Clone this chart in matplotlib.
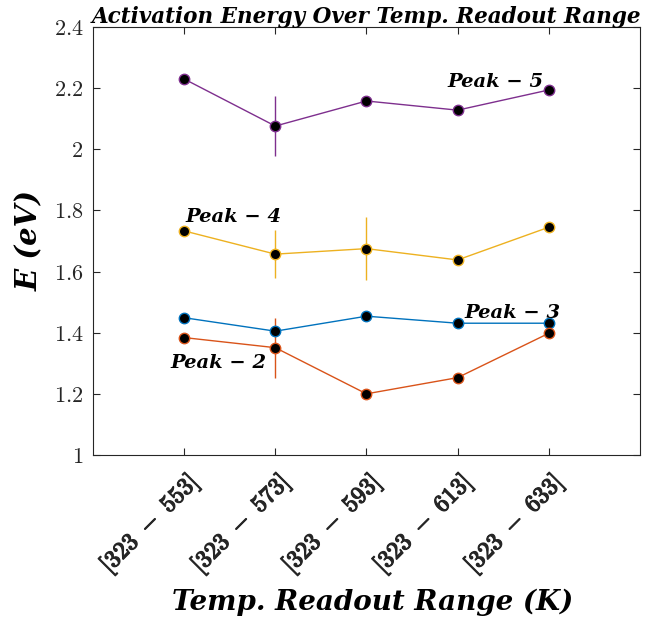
import numpy as np
from matplotlib import pyplot as plt
from matplotlib import patheffects

plt.rcParams['mathtext.fontset'] = 'cm'

x_pos = [1, 2, 3, 4, 5]
range_low = [323, 323, 323, 323, 323]
range_high = [553, 573, 593, 613, 633]

peak2 = [1.384, 1.351, 1.200, 1.253, 1.398]
peak2_err = [0, 0.098, 0, 0, 0]
peak3 = [1.449, 1.405, 1.454, 1.431, 1.431]
peak3_err = [0, 0, 0, 0, 0]
peak4 = [1.733, 1.657, 1.675, 1.638, 1.745]
peak4_err = [0, 0.078, 0.104, 0, 0]
peak5 = [2.230, 2.076, 2.158, 2.128, 2.194]
peak5_err = [0, 0.097, 0, 0, 0]

series = [
    (peak3, peak3_err, (0, 0.447, 0.741)),
    (peak2, peak2_err, (0.85, 0.325, 0.098)),
    (peak4, peak4_err, (0.929, 0.694, 0.125)),
    (peak5, peak5_err, (0.494, 0.184, 0.556)),
]

bold_it = dict(family='DejaVu Serif', weight='bold', style='italic')

fig = plt.figure(figsize=(6.49, 6.18), dpi=100)
ax = fig.add_axes([0.1433, 0.2638, 0.8427, 0.6925])

for values, err, color in series:
    yerr = np.array(err)
    ax.errorbar(x_pos, values, yerr=np.where(yerr > 0, yerr, np.nan), color=color,
                linewidth=1, elinewidth=1, capsize=0, marker='o', markersize=7.5,
                markerfacecolor='black', markeredgecolor=color, markeredgewidth=1)

ax.text(4.94, 2.22, 'Peak − 5', ha='right', va='center', fontsize=14, **bold_it)
ax.text(1.01, 1.78, 'Peak − 4', ha='left', va='center', fontsize=14, **bold_it)
ax.text(4.07, 1.465, 'Peak − 3', ha='left', va='center', fontsize=14, **bold_it)
ax.text(0.85, 1.30, 'Peak − 2', ha='left', va='center', fontsize=14, **bold_it)

ax.set_xlim(0, 6)
ax.set_ylim(1, 2.4)
ax.set_xticks(x_pos)
xlabels = ax.set_xticklabels([r'$\mathbf{[%d}\ -\ \mathbf{%d]}$' % (lo, hi)
                              for lo, hi in zip(range_low, range_high)],
                             rotation=45, ha='right', va='top', rotation_mode='anchor', fontsize=17.5)
for label in xlabels:
    label.set_path_effects([patheffects.withStroke(linewidth=0.9, foreground='#262626')])
yticks = [1, 1.2, 1.4, 1.6, 1.8, 2, 2.2, 2.4]
ax.set_yticks(yticks)
ax.set_yticklabels([r'$' + f'{v:g}' + '$' for v in yticks], fontsize=16)

ax.tick_params(direction='in', top=True, right=True, length=5, colors='#262626')
ax.tick_params(axis='y', pad=7)
ax.tick_params(axis='x', pad=10)
for spine in ax.spines.values():
    spine.set_color('#262626')

ax.set_title('Activation Energy Over Temp. Readout Range', fontsize=15.5, pad=3, **bold_it)
ax.set_xlabel('Temp. Readout Range (K)', fontsize=20, va='center', **bold_it)
ax.xaxis.set_label_coords(0.512, -0.345)
ax.set_ylabel('E (eV)', fontsize=21, va='center', **bold_it)
ax.yaxis.set_label_coords(-0.116, 0.5)

fig.savefig('out.png', dpi=100)
